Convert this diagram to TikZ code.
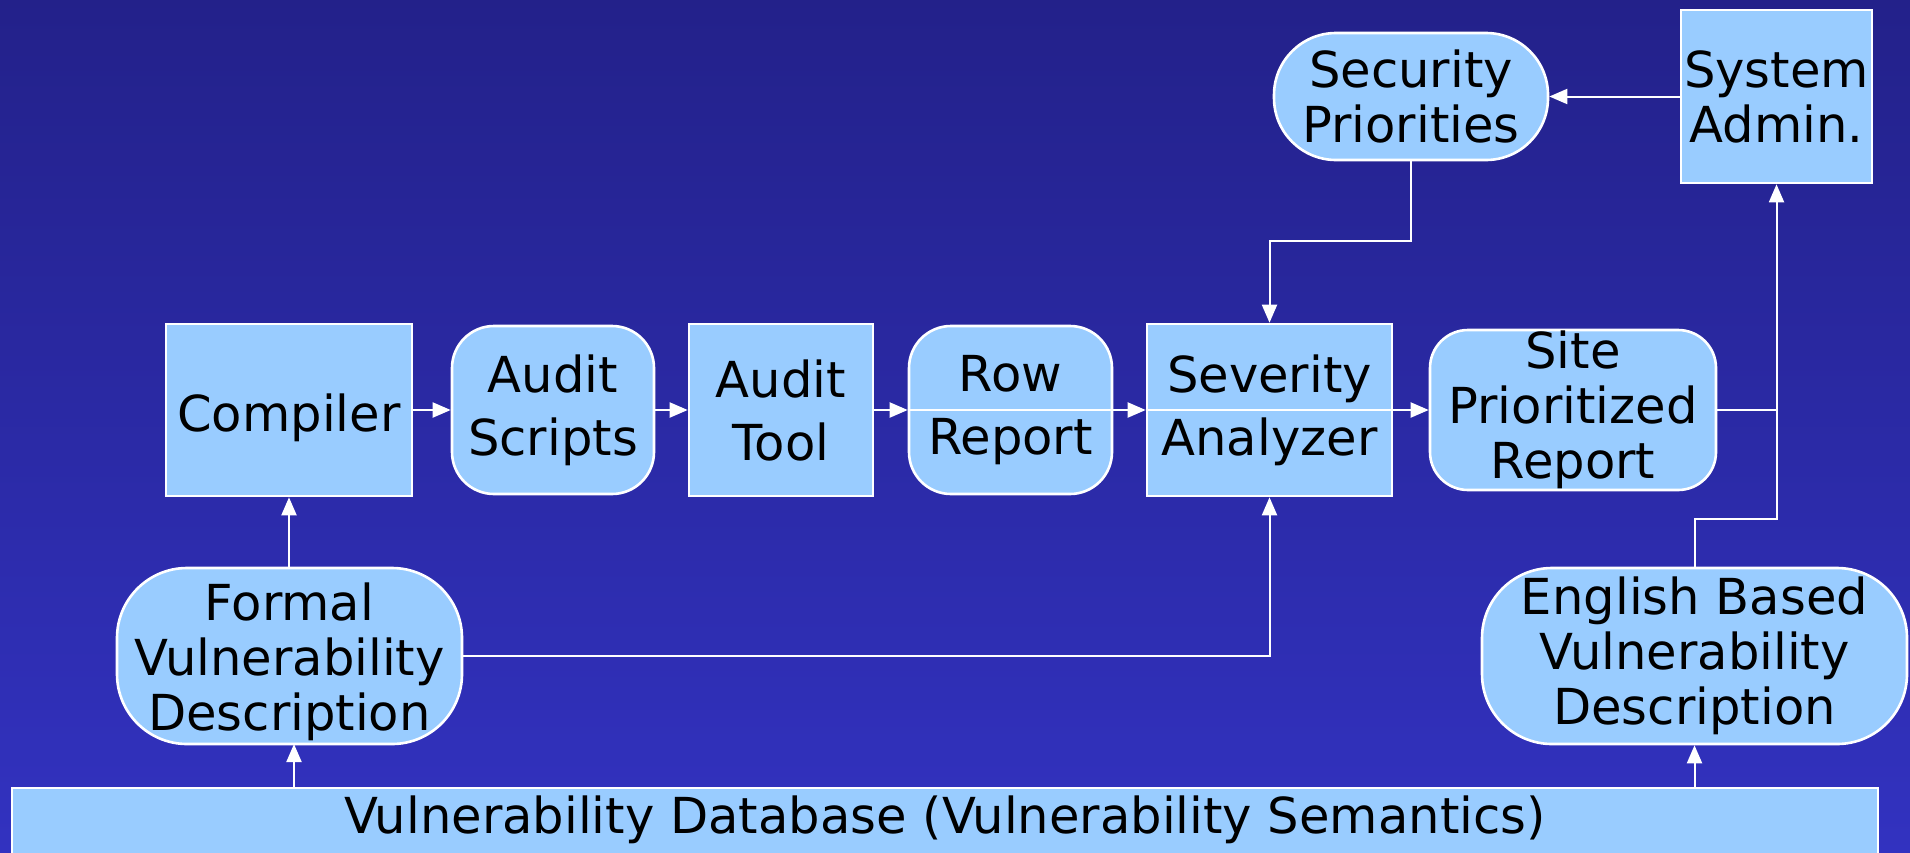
\documentclass[tikz,border=0pt]{standalone}
\usepackage{fontspec}
\setmainfont{DejaVu Sans}
\usetikzlibrary{arrows.meta}
\definecolor{bgtop}{HTML}{23218A}
\definecolor{bgbot}{HTML}{3232C0}
\definecolor{boxfill}{HTML}{99CCFF}
\tikzset{
  base/.style={draw=white, line width=2.6pt, fill=boxfill, text=black, align=center, inner sep=0pt,
    font=\fontsize{49.6}{55}\selectfont},
  wide/.style={font=\fontsize{49.6}{63}\selectfont},
  rectbox/.style={base, rectangle},
  roundbox/.style={base, rectangle, rounded corners=#1},
  conn/.style={draw=white, line width=2pt},
  arr/.style={conn, -{Triangle[length=18pt,width=15pt]}},
}
\begin{document}
\begin{tikzpicture}[x=1pt,y=-1pt]
\shade[top color=bgtop, bottom color=bgbot] (0,0) rectangle (1910,852);
\useasboundingbox (0,0) rectangle (1910,852);

\node[rectbox, minimum width=246pt, minimum height=172pt] (compiler) at (289,410) {\raisebox{-8pt}[\height][\depth]{Compiler}};
\node[roundbox=42pt, wide, minimum width=202pt, minimum height=168pt] (scripts) at (553,410) {Audit\\Scripts};
\node[rectbox, wide, minimum width=184pt, minimum height=172pt] (tool) at (781,410) {Audit\\Tool};
\node[roundbox=42pt, wide, minimum width=203pt, minimum height=168pt] (row) at (1010.5,410) {Row\\Report};
\node[rectbox, wide, minimum width=245pt, minimum height=172pt] (severity) at (1269.5,410) {Severity\\Analyzer};
\node[roundbox=38pt, minimum width=286pt, minimum height=160pt] (site) at (1573,410) {Site\\Prioritized\\Report};
\node[roundbox=62pt, minimum width=274pt, minimum height=127pt] (security) at (1411,96.5) {Security\\Priorities};
\node[rectbox, minimum width=191pt, minimum height=173pt] (admin) at (1776.5,96.5) {System\\Admin.};
\node[roundbox=70pt, minimum width=345pt, minimum height=176pt] (formal) at (289.5,656) {\raisebox{-6pt}[\height][\depth]{\parbox{345pt}{\centering Formal\\Vulnerability\\Description}}};
\node[roundbox=70pt, minimum width=425pt, minimum height=176pt] (english) at (1694.5,656) {English Based\\Vulnerability\\Description};
\node[rectbox, minimum width=1866pt, minimum height=100pt] (db) at (945,838) {};
\node[text=black, inner sep=0pt, font=\fontsize{49.6}{56}\selectfont] (dbtext) at (945,820) {Vulnerability Database (Vulnerability Semantics)};

% main chain
\draw[arr] (compiler.east) -- (scripts.west);
\draw[arr] (scripts.east) -- (tool.west);
\draw[arr] (tool.east) -- (row.west);
\draw[conn] (row.west) -- (row.east);
\draw[arr] (row.east) -- (severity.west);
\draw[conn] (severity.west) -- (severity.east);
\draw[arr] (severity.east) -- (site.west);

% site -> admin, english -> admin
\coordinate (jn) at (admin.south |- site.east);
\draw[arr] (site.east) -- (jn) -- (admin.south);
\coordinate (eb1) at (english.north |- 0,519);
\coordinate (eb2) at (admin.south |- 0,519);
\draw[conn] (english.north) -- (eb1) -- (eb2) -- (jn);

% admin -> security
\draw[arr] (admin.west) -- (security.east);

% security -> severity
\coordinate (s1) at (security.south |- 0,241);
\coordinate (s2) at (severity.north |- 0,241);
\draw[arr] (security.south) -- (s1) -- (s2) -- (severity.north);

% formal -> severity
\coordinate (f1) at (severity.south |- formal.east);
\draw[arr] (formal.east) -- (f1) -- (severity.south);

% formal -> compiler
\coordinate (fc) at (compiler.south |- formal.north);
\draw[arr] (fc) -- (compiler.south);

% db -> formal, english
\coordinate (d1) at (294,788);
\coordinate (d2) at (294,744);
\draw[arr] (d1) -- (d2);
\coordinate (d3) at (english.south |- 0,788);
\draw[arr] (d3) -- (english.south);
\end{tikzpicture}
\end{document}
